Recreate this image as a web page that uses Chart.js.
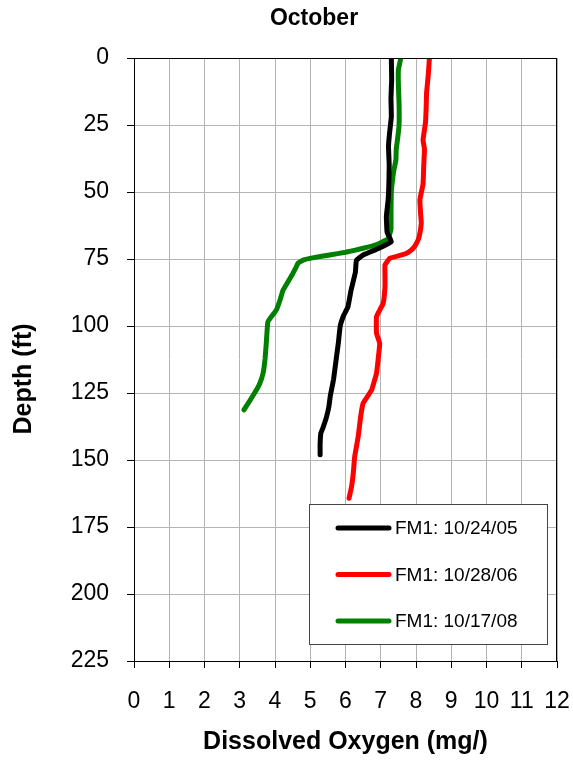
<!DOCTYPE html>
<html>
<head>
<meta charset="utf-8">
<script src="https://cdn.jsdelivr.net/npm/chart.js@4.4.0/dist/chart.umd.min.js"></script>
<style>
  html, body { margin: 0; padding: 0; background: #fff; }
  #wrap { width: 573px; height: 761px; }
</style>
</head>
<body>
<div id="wrap"><canvas id="grafico" width="573" height="761"></canvas></div>
<script>
// FM1 profiles, depth (ft) vs dissolved oxygen (mg/l)
const labels = ["FM1: 10/24/05", "FM1: 10/28/06", "FM1: 10/17/08"];
const colores = ["#000000", "#ff0000", "#008000"];

const depth05 = [0, 8, 15, 22, 28, 33, 40, 47, 53, 59, 65, 68.5, 71, 73.5, 75.5, 80, 86.5, 92.8, 96, 100, 106, 112, 120, 126, 130, 134, 138, 140, 144, 148];
const oxy05 = [7.3, 7.31, 7.29, 7.3, 7.25, 7.22, 7.24, 7.23, 7.21, 7.16, 7.18, 7.3, 6.95, 6.5, 6.31, 6.28, 6.16, 6.07, 5.95, 5.85, 5.8, 5.74, 5.66, 5.57, 5.53, 5.46, 5.36, 5.3, 5.28, 5.28];

const depth06 = [0, 6, 13, 18, 24, 30.6, 34, 40, 47, 53, 58, 61.6, 66.7, 69, 71, 72.5, 73.5, 74.7, 77.2, 81, 85.3, 91.5, 96.5, 102.7, 106.5, 112, 117.6, 123.9, 128.8, 133.8, 141.3, 148.8, 155, 160, 164.3];
const oxy06 = [8.38, 8.35, 8.3, 8.29, 8.27, 8.2, 8.24, 8.22, 8.2, 8.11, 8.13, 8.15, 8.09, 8.02, 7.92, 7.78, 7.6, 7.26, 7.12, 7.12, 7.12, 7.07, 6.88, 6.88, 6.97, 6.93, 6.88, 6.74, 6.5, 6.43, 6.36, 6.26, 6.22, 6.17, 6.1];

const depth08 = [0, 4.5, 10, 17, 25, 30, 34, 38, 42, 46, 50, 57, 64, 67.5, 69.5, 71, 72.5, 73.5, 74.5, 75.4, 76.6, 78, 80.3, 83.5, 86.6, 90, 94, 98.4, 105, 112, 117.7, 122, 125, 128, 131.3];
const oxy08 = [7.57, 7.5, 7.5, 7.52, 7.52, 7.48, 7.44, 7.43, 7.37, 7.33, 7.3, 7.29, 7.29, 7.2, 6.9, 6.5, 6.0, 5.55, 5.1, 4.8, 4.65, 4.6, 4.51, 4.37, 4.23, 4.15, 4.04, 3.8, 3.76, 3.72, 3.66, 3.55, 3.42, 3.28, 3.12];

const depths = [depth05, depth06, depth08];
const oxys = [oxy05, oxy06, oxy08];

const datasets = labels.map((lab, i) => ({
    label: lab,
    data: depths[i].map((d, j) => ({ x: oxys[i][j], y: d })),
    borderColor: colores[i],
    backgroundColor: colores[i],
    borderWidth: 5,
    pointRadius: 0,
    showLine: true,
    tension: 0.1,
    borderCapStyle: 'round',
    borderJoinStyle: 'round'
}));

const fuente = '"Liberation Sans", Arial, sans-serif';

// titulo, titulo del eje y, marco y leyenda dibujados a mano
const extras = {
    id: 'extras',
    afterDraw(chart) {
        const ctx = chart.ctx;
        const a = chart.chartArea;
        ctx.save();
        ctx.strokeStyle = '#000';
        ctx.lineWidth = 1;
        ctx.strokeRect(a.left + 0.5, a.top + 0.5, a.right - a.left - 1, a.bottom - a.top);

        ctx.fillStyle = '#000';
        ctx.font = 'bold 23px ' + fuente;
        ctx.textAlign = 'center';
        ctx.textBaseline = 'middle';
        ctx.fillText('October', 314, 19);

        ctx.save();
        ctx.translate(24, 379);
        ctx.rotate(-Math.PI / 2);
        ctx.font = 'bold 25px ' + fuente;
        ctx.fillText('Depth (ft)', 0, 0);
        ctx.restore();

        // leyenda
        const bx = 309.5, by = 504.5, bw = 238, bh = 140;
        ctx.fillStyle = '#fff';
        ctx.fillRect(bx, by, bw, bh);
        ctx.strokeStyle = '#444';
        ctx.strokeRect(bx, by, bw, bh);
        ctx.font = '19px ' + fuente;
        ctx.textAlign = 'left';
        chart.data.datasets.forEach((ds, i) => {
            const y = 528 + i * 46.5;
            ctx.strokeStyle = ds.borderColor;
            ctx.lineWidth = 5;
            ctx.lineCap = 'round';
            ctx.beginPath();
            ctx.moveTo(338, y);
            ctx.lineTo(389, y);
            ctx.stroke();
            ctx.fillStyle = '#000';
            ctx.fillText(ds.label, 395, y + 1);
        });
        ctx.restore();
    }
};

const ctx = document.getElementById('grafico').getContext('2d');

new Chart(ctx, {
    type: 'scatter',
    data: { datasets: datasets },
    options: {
        responsive: false,
        animation: false,
        layout: { padding: { top: 58, right: 0, left: 0, bottom: 0 } },
        plugins: {
            legend: { display: false },
            title: { display: false },
            tooltip: { enabled: false }
        },
        scales: {
            x: {
                type: 'linear',
                min: 0,
                max: 12,
                ticks: {
                    stepSize: 1,
                    color: '#000',
                    padding: 20,
                    font: { family: fuente, size: 23 }
                },
                grid: {
                    color: '#b4b4b4',
                    borderDash: [2, 2],
                    tickColor: '#000',
                    tickLength: 7
                },
                border: { color: '#000' },
                title: {
                    display: true,
                    text: 'Dissolved Oxygen (mg/)',
                    color: '#000',
                    padding: { top: 2, bottom: 4 },
                    font: { family: fuente, size: 25, weight: 'bold' }
                },
                afterFit: (scale) => {
                    scale.height = 100;
                    scale.paddingRight = 16;
                }
            },
            y: {
                type: 'linear',
                reverse: true,
                min: 0,
                max: 225,
                ticks: {
                    stepSize: 25,
                    color: '#000',
                    padding: 18,
                    font: { family: fuente, size: 23 }
                },
                grid: {
                    color: '#b4b4b4',
                    borderDash: [2, 2],
                    tickColor: '#000',
                    tickLength: 7
                },
                border: { color: '#000' },
                title: { display: false },
                afterFit: (scale) => { scale.width = 134; }
            }
        }
    },
    plugins: [extras]
});
</script>
</body>
</html>
